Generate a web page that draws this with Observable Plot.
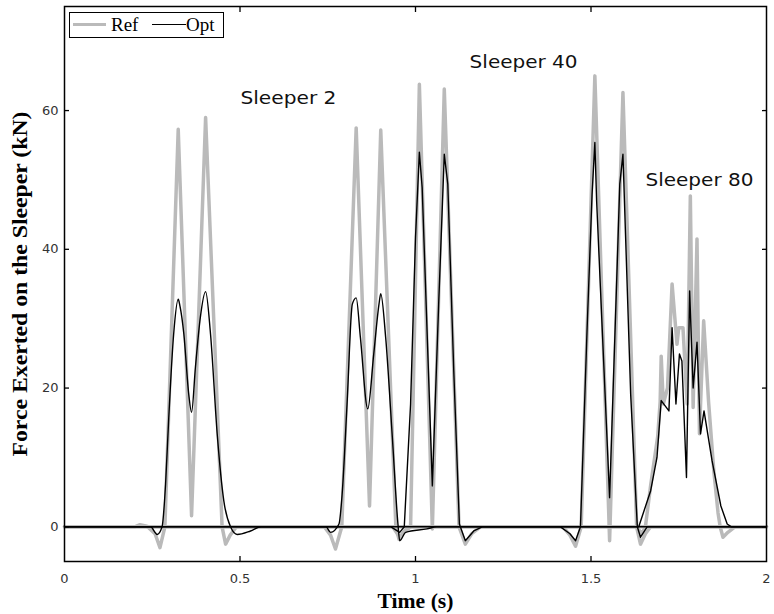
<!DOCTYPE html>
<html>
<head>
<meta charset="utf-8">
<script src="https://cdn.jsdelivr.net/npm/d3@7"></script>
<script src="https://cdn.jsdelivr.net/npm/@observablehq/plot@0.6"></script>
<style>
  html, body { margin: 0; padding: 0; background: #fff; }
  #wrap { position: relative; width: 774px; height: 614px; overflow: hidden; }
  #legend { position: absolute; left: 69px; top: 12px; width: 155px; height: 26px; box-sizing: border-box;
            border: 1.5px solid #000; background: #fff; }
  #legend .sw { position: absolute; top: 11px; }
  #legend .lab { position: absolute; top: 1px; font-family: "Liberation Serif", serif; font-size: 19px; line-height: 22px; color: #000; }
</style>
</head>
<body>
<div id="wrap">
  <div id="chart"></div>
  <div id="legend">
    <div class="sw" style="left:3px;width:33px;height:0;border-top:3.5px solid #bababa;top:9.5px"></div>
    <div class="lab" style="left:41px">Ref</div>
    <div class="sw" style="left:82px;width:34px;height:0;border-top:1.5px solid #000;top:10.5px"></div>
    <div class="lab" style="left:116px">Opt</div>
  </div>
</div>
<script>
// ---- Data (time in s, force in kN) ----
const refSleeper2 = [[0,0],[0.2,0],[0.215,0.3],[0.235,0.1],[0.258,-1],[0.272,-3.0],[0.286,0],[0.324,57.3],[0.362,1.6],[0.402,59],[0.449,0],[0.459,-2.5],[0.472,-1.2],[0.49,0],
  [0.74,0],[0.758,-1.2],[0.772,-3.2],[0.79,0],[0.831,57.5],[0.869,3.0],[0.901,57.2],[0.944,0],[0.953,-1.8],[0.968,-0.6],[0.985,0],[2,0]];
const optSleeper2 = [[0,0],[0.245,0],[0.264,-1.1],[0.278,0],[0.288,6.2],[0.297,15.7],[0.311,27.8],[0.324,32.8],[0.329,31.8],[0.340,27.8],[0.354,19.1],[0.362,16.5],[0.373,23],[0.387,30.2],[0.402,33.9],[0.416,27.8],[0.435,13.4],[0.454,3.7],[0.473,0],[0.492,-1.1],[0.53,-0.6],[0.56,0],
  [0.745,0],[0.758,-0.8],[0.782,0.4],[0.791,4.7],[0.805,17.7],[0.820,32.1],[0.831,33.0],[0.843,27.3],[0.864,17.0],[0.881,24.9],[0.896,32.1],[0.901,33.6],[0.915,27.3],[0.934,12.9],[0.950,0.4],[0.955,-2.0],[0.972,-0.8],[1.033,-0.3],[1.06,0],[2,0]];
const refSleeper40 = [[0,0],[0.935,0],[0.955,-1.5],[0.972,-0.5],[0.986,0],[1.011,63.8],[1.048,-0.3],[1.082,63.1],[1.124,0],[1.142,-2.5],[1.16,-1],[1.185,0],
  [1.42,0],[1.44,-1.2],[1.456,-2.8],[1.472,0],[1.511,65.0],[1.553,-2.0],[1.591,62.6],[1.630,0],[1.641,-2.5],[1.655,-1],[1.67,0],[2,0]];
const optSleeper40 = [[0,0],[0.93,0],[0.955,-0.8],[0.968,0],[0.986,17.7],[1.0,41.7],[1.011,54.0],[1.019,48.9],[1.048,5.9],[1.066,32.1],[1.082,53.7],[1.092,49.4],[1.109,22.5],[1.125,0.4],[1.142,-2.0],[1.166,-0.6],[1.19,0],
  [1.413,0],[1.44,-1.0],[1.456,-2.0],[1.470,0],[1.489,28.7],[1.503,47.9],[1.511,55.4],[1.516,47],[1.553,4.2],[1.575,38.3],[1.582,49.4],[1.591,53.7],[1.613,19.1],[1.632,0],[1.641,-1.5],[1.66,0],[2,0]];
const refSleeper80 = [[0,0],[1.63,0],[1.645,-1.0],[1.655,0],[1.67,6],[1.69,13],[1.697,18],[1.700,24.6],[1.706,17.7],[1.718,20],[1.731,35],[1.745,26.3],[1.750,28.7],[1.762,28.7],[1.774,17.7],[1.783,47.7],[1.791,17.2],[1.802,41.5],[1.809,13.4],[1.821,29.7],[1.835,18],[1.85,8],[1.862,2],[1.868,0],[1.876,-1.5],[1.89,-0.8],[1.91,0],[2,0]];
const optSleeper80 = [[0,0],[1.636,0],[1.670,5.2],[1.688,10],[1.700,18.2],[1.722,16.7],[1.731,28.7],[1.742,17.7],[1.752,24.9],[1.759,23.9],[1.772,7.1],[1.781,34],[1.791,20],[1.802,26.6],[1.812,13.4],[1.822,16.7],[1.845,9.5],[1.870,3],[1.888,0.4],[1.9,0],[2,0]];

const labelText = ["Sleeper 2", "Sleeper 40", "Sleeper 80"];
const labelT = [0.638, 1.308, 1.809];
const labelV = [61.8, 66.9, 49.9];
const labelWidth = [96, 108, 108];

const xTicks = [0, 0.5, 1, 1.5, 2];
const xInnerTicks = [0.5, 1, 1.5];
const yTicks = [0, 20, 40, 60];
const xTitle = "Time (s)";
const yTitle = "Force Exerted on the Sleeper (kN)";

// ---- Build tables ----
const toRows = (arr, s) => arr.map(([t, v]) => ({t, v, s}));
const refRows = [...toRows(refSleeper2, "2"), ...toRows(refSleeper40, "40"), ...toRows(refSleeper80, "80")];
const optRowsSmooth = toRows(optSleeper2, "2");
const optRowsSharp = [...toRows(optSleeper40, "40"), ...toRows(optSleeper80, "80")];
const labels = labelText.map((text, i) => ({text, t: labelT[i], v: labelV[i]}));

const tickFont = {fontSize: 13, fontFamily: "DejaVu Sans", fill: "#333"};
const blank = () => "";
const optStyle = {x: "t", y: "v", z: "s", stroke: "#000", strokeWidth: 1.4, strokeLinejoin: "round"};

const chart = Plot.plot({
  width: 774,
  height: 614,
  marginLeft: 64,
  marginRight: 8,
  marginTop: 6,
  marginBottom: 53,
  x: {domain: [0, 2]},
  y: {domain: [-5, 75]},
  style: {background: "white", overflow: "visible"},
  marks: [
    Plot.line(refRows, {x: "t", y: "v", z: "s", stroke: "#bababa", strokeWidth: 3.5, strokeLinejoin: "round"}),
    Plot.line(optRowsSmooth, {...optStyle, curve: "monotone-x"}),
    Plot.line(optRowsSharp, optStyle),
    Plot.text(labels, {x: "t", y: "v", text: "text", fontSize: 17, fontFamily: "DejaVu Sans", fill: "#111"}),
    Plot.frame({stroke: "#000", strokeWidth: 1.5}),
    Plot.axisY(yTicks, {anchor: "left", tickSize: 0, tickPadding: 6, label: null, ...tickFont}),
    Plot.axisY(yTicks, {anchor: "left", tickSize: 5, dx: 5, tickFormat: blank, label: null, strokeWidth: 1.3}),
    Plot.axisY(yTicks, {anchor: "right", tickSize: 5, dx: -5, tickFormat: blank, label: null, strokeWidth: 1.3}),
    Plot.axisX(xTicks, {anchor: "bottom", tickSize: 0, tickPadding: 12, tickFormat: d => String(d), label: null, ...tickFont}),
    Plot.axisX(xInnerTicks, {anchor: "bottom", tickSize: 5, dy: -5, tickFormat: blank, label: null, strokeWidth: 1.3}),
    Plot.axisX(xInnerTicks, {anchor: "top", tickSize: 5, dy: 5, tickFormat: blank, label: null, strokeWidth: 1.3}),
    Plot.text([yTitle], {frameAnchor: "left", text: d => d, rotate: -90, dx: -44, textAnchor: "middle", lineAnchor: "middle", fontSize: 20, fontFamily: "Liberation Serif", fontWeight: "bold", fill: "#000"}),
    Plot.text([xTitle], {frameAnchor: "bottom", text: d => d, dy: 40, textAnchor: "middle", lineAnchor: "middle", fontSize: 20, fontFamily: "Liberation Serif", fontWeight: "bold", fill: "#000"})
  ]
});

document.getElementById("chart").appendChild(chart);

// stretch annotation / title text to the measured lengths
d3.select(chart).selectAll("text").each(function() {
  const s = this.textContent;
  const i = labelText.indexOf(s);
  if (i >= 0) { this.setAttribute("textLength", labelWidth[i]); this.setAttribute("lengthAdjust", "spacingAndGlyphs"); }
  if (s === yTitle) { this.setAttribute("textLength", 345); this.setAttribute("lengthAdjust", "spacingAndGlyphs"); }
  if (s === xTitle) { this.setAttribute("textLength", 76); this.setAttribute("lengthAdjust", "spacingAndGlyphs"); }
});
</script>
</body>
</html>
